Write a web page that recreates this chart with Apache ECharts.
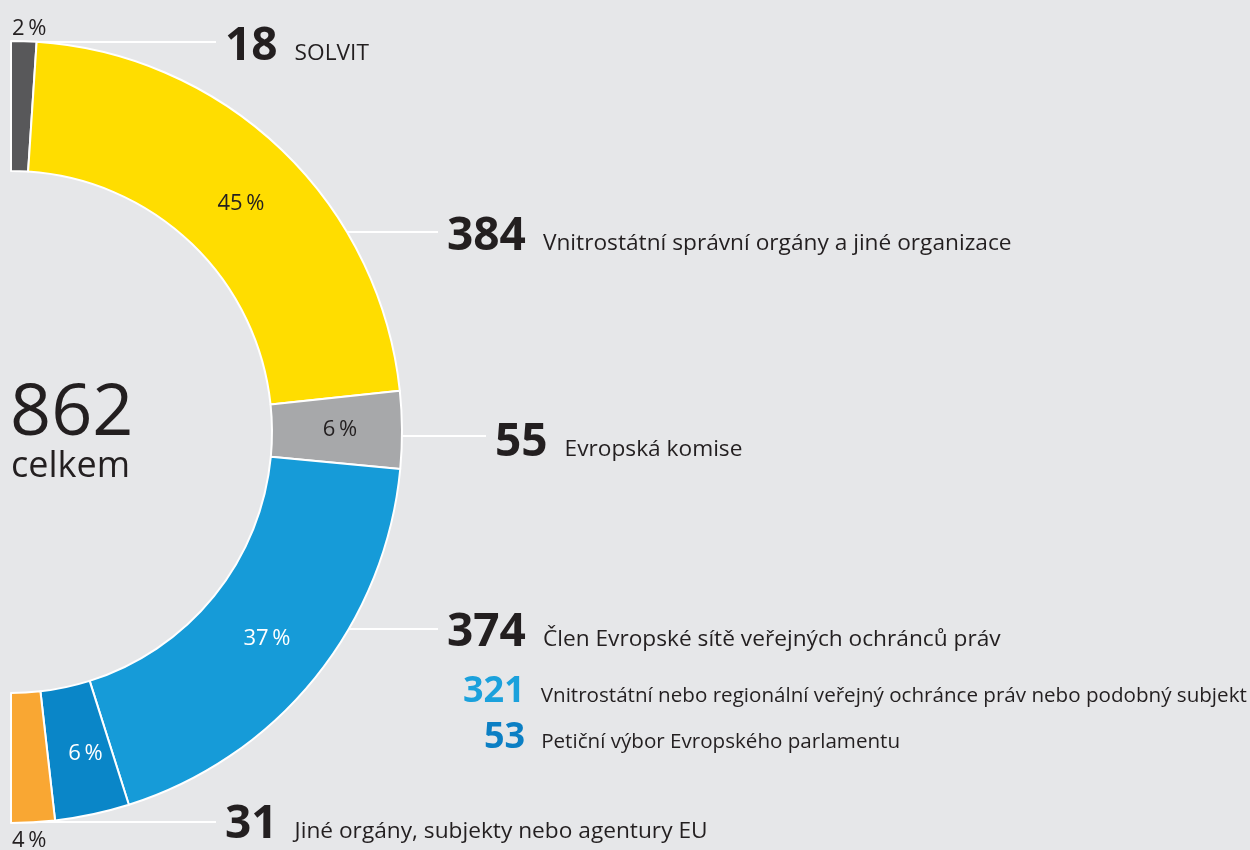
<!DOCTYPE html>
<html>
<head>
<meta charset="utf-8">
<script src="https://cdn.jsdelivr.net/npm/echarts@6/dist/echarts.min.js"></script>
<style>
  html, body { margin: 0; padding: 0; background: #e6e7e9; }
  #chart { width: 1250px; height: 850px; }
</style>
</head>
<body>
<div id="chart"></div>
<script>
// výseky prstence (od shora po směru hodinových ručiček)
const sliceNames = [
  "SOLVIT",
  "Vnitrostátní správní orgány a jiné organizace",
  "Evropská komise",
  "Vnitrostátní nebo regionální veřejný ochránce práv nebo podobný subjekt",
  "Petiční výbor Evropského parlamentu",
  "Jiné orgány, subjekty nebo agentury EU"
];
const sliceValues = [18, 384, 55, 321, 53, 31];

// skupiny s popiskem a čarou
const groupNames = [
  "SOLVIT",
  "Vnitrostátní správní orgány a jiné organizace",
  "Evropská komise",
  "Člen Evropské sítě veřejných ochránců práv",
  "Jiné orgány, subjekty nebo agentury EU"
];
const groupValues = [18, 384, 55, 374, 31];
const totalLabel = "celkem";

const sliceColors = ["#58585a", "#ffdd00", "#a7a8aa", "#169bd8", "#0a86c8", "#f9a733"];
const FONT = '"Open Sans", "Noto Sans", sans-serif';
const DARK = "#231f20";

// geometrie prstence
const CX = 11, CY = 432, R0 = 261, R1 = 391;
// pozice popisků (x, y středu řádku) a výška čar
const groupLabelPos = [[225, 47], [447, 237], [495, 443], [447, 633], [225, 825]];
const groupLineY = [42, 232, 436, 629, 822];
const subLabelPos = { 3: [463, 692], 4: [484, 738] };
const outsidePctPos = { 0: [12, 29], 5: [12, 841] };
const insidePctShift = { 1: [2, 9], 4: [6, 0] };

const total = sliceValues.reduce((a, b) => a + b, 0);

const chart = echarts.init(document.getElementById("chart"));

const pct = (v) => Math.round((v / total) * 100) + "\u2009%";

let option;
option = {
  backgroundColor: "#e6e7e9",
  textStyle: { fontFamily: FONT },
  animation: false,
  graphic: [
    {
      type: "text",
      x: 10,
      y: 414,
      style: { text: String(total), font: "72px " + FONT, fill: DARK, verticalAlign: "middle" }
    },
    {
      type: "text",
      x: 11,
      y: 467,
      style: { text: totalLabel, font: "500 36px " + FONT, fill: DARK, verticalAlign: "middle" }
    }
  ],
  series: [
    {
      // vlastní prstenec s procenty
      type: "pie",
      center: [CX, CY],
      radius: [R0, R1],
      startAngle: 90,
      endAngle: -90,
      clockwise: true,
      silent: true,
      avoidLabelOverlap: false,
      itemStyle: { borderColor: "#ffffff", borderWidth: 2 },
      label: {
        position: "inside",
        fontSize: 22,
        fontFamily: FONT,
        formatter: (p) => pct(p.value)
      },
      labelLine: { show: false },
      labelLayout: (p) => {
        const pos = outsidePctPos[p.dataIndex];
        if (pos) return { x: pos[0], y: pos[1], align: "left", verticalAlign: "middle" };
        const d = insidePctShift[p.dataIndex];
        if (d) return { dx: d[0], dy: d[1] };
        return {};
      },
      data: sliceValues.map((v, i) => ({
        name: sliceNames[i],
        value: v,
        itemStyle: { color: sliceColors[i] },
        label: { color: i === 3 || i === 4 ? "#ffffff" : DARK }
      }))
    },
    {
      // popisky skupin s vodicí čarou
      type: "pie",
      center: [CX, CY],
      radius: [R0, R1],
      startAngle: 90,
      endAngle: -90,
      clockwise: true,
      silent: true,
      avoidLabelOverlap: false,
      itemStyle: { color: "transparent", borderWidth: 0 },
      label: {
        position: "outside",
        formatter: (p) => "{num|" + p.value + "}{name|" + p.name + "}",
        rich: {
          num: { fontSize: 46, fontWeight: "bold", color: DARK, fontFamily: FONT, lineHeight: 46 },
          name: { fontSize: 22.7, color: DARK, fontFamily: FONT, padding: [13, 0, 0, 17] }
        }
      },
      labelLine: { show: true, smooth: false, lineStyle: { color: "#ffffff", width: 2 } },
      labelLayout: (p) => {
        const [x, y] = groupLabelPos[p.dataIndex];
        const ly = groupLineY[p.dataIndex];
        const ax = CX + Math.sqrt(Math.max(0, R1 * R1 - (ly - CY) * (ly - CY)));
        const ex = x - 9;
        return {
          x: x,
          y: y,
          align: "left",
          verticalAlign: "middle",
          labelLinePoints: [[ax, ly], [(ax + ex) / 2, ly], [ex, ly]]
        };
      },
      data: groupValues.map((v, i) => ({ name: groupNames[i], value: v }))
    },
    {
      // podrobnější rozpad modré skupiny
      type: "pie",
      center: [CX, CY],
      radius: [R0, R1],
      startAngle: 90,
      endAngle: -90,
      clockwise: true,
      silent: true,
      avoidLabelOverlap: false,
      itemStyle: { color: "transparent", borderWidth: 0 },
      label: {
        position: "outside",
        formatter: (p) => "{n" + p.dataIndex + "|" + p.value + "}{name|" + p.name + "}",
        rich: {
          n3: { fontSize: 36, fontWeight: "bold", color: "#1ba1dc", fontFamily: FONT },
          n4: { fontSize: 36, fontWeight: "bold", color: "#0b7fc4", fontFamily: FONT },
          name: { fontSize: 20.6, color: DARK, fontFamily: FONT, padding: [9, 0, 0, 16] }
        }
      },
      labelLine: { show: false },
      labelLayout: (p) => {
        const pos = subLabelPos[p.dataIndex];
        if (!pos) return {};
        return { x: pos[0], y: pos[1], align: "left", verticalAlign: "middle" };
      },
      data: sliceValues.map((v, i) => ({
        name: sliceNames[i],
        value: v,
        label: { show: i === 3 || i === 4 }
      }))
    }
  ]
};

option && chart.setOption(option);
</script>
</body>
</html>
